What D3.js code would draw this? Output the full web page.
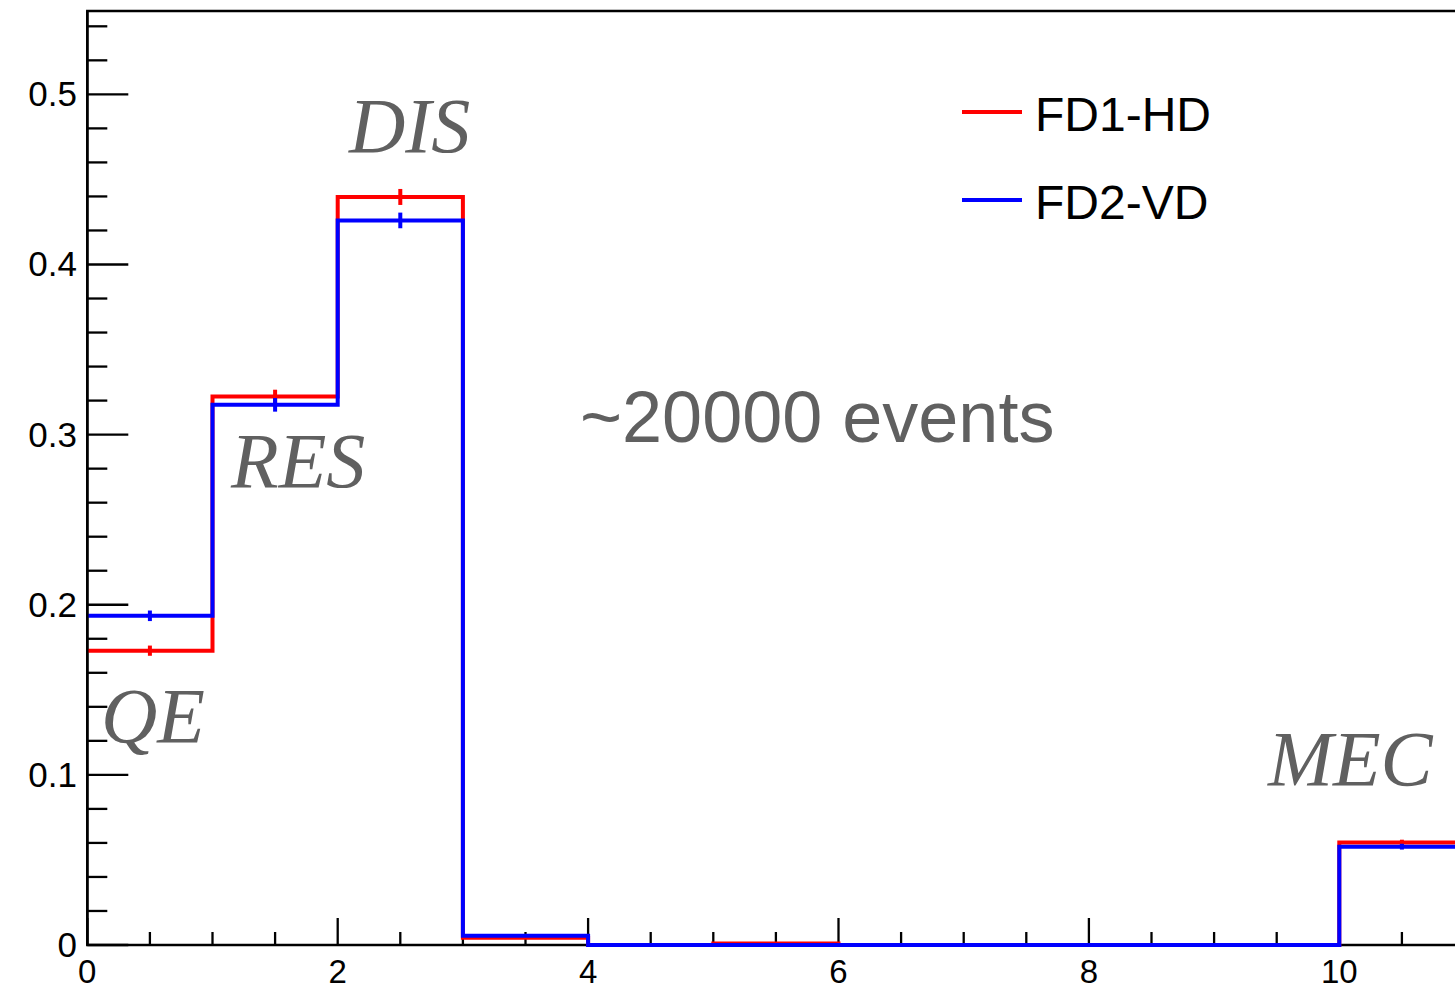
<!DOCTYPE html>
<html>
<head>
<meta charset="utf-8">
<script src="https://cdn.jsdelivr.net/npm/d3@7"></script>
<style>
  body { margin: 0; background: #fff; }
  svg { display: block; }
</style>
</head>
<body>
<script>
var width = 1455,
    height = 988;

// bin lower edges, one unit wide
var binEdges = [0, 1, 2, 3, 4, 5, 6, 7, 8, 9, 10];
var hdValues = [0.173, 0.3224, 0.4397, 0.0042, 0.0, 0.0009, 0.0, 0.0, 0.0, 0.0, 0.0602];
var hdErrors = [0.0030, 0.0040, 0.0047, 0.0005, 0.0, 0.0002, 0.0, 0.0, 0.0, 0.0, 0.0017];
var vdValues = [0.1935, 0.3175, 0.4259, 0.0054, 0.0, 0.0, 0.0, 0.0, 0.0, 0.0, 0.0578];
var vdErrors = [0.0031, 0.0040, 0.0046, 0.0005, 0.0, 0.0, 0.0, 0.0, 0.0, 0.0, 0.0017];

var xTickLabels = [0, 2, 4, 6, 8, 10];
var yTickLabels = [0, 0.1, 0.2, 0.3, 0.4, 0.5];

var legendNames = ["FD1-HD", "FD2-VD"];
var annotations = [
  { text: "DIS", x: 349, y: 152 },
  { text: "RES", x: 231, y: 487 },
  { text: "QE", x: 101, y: 742 },
  { text: "MEC", x: 1268, y: 785 }
];

var plotLeft = 87.3, plotBottom = 945, plotTop = 11;
var yMax = 0.549;

var xScale = d3.scaleLinear()
  .domain([0, 12])
  .range([plotLeft, plotLeft + 12 * 125.2]);

var yScale = d3.scaleLinear()
  .domain([0, yMax])
  .range([plotBottom, plotTop]);

var svg = d3.select("body")
  .append("svg")
  .attr("width", width)
  .attr("height", height);

//frame
svg.append("rect")
  .attr("x", xScale(0))
  .attr("y", yScale(yMax))
  .attr("width", xScale(12) - xScale(0))
  .attr("height", yScale(0) - yScale(yMax))
  .attr("fill", "none")
  .attr("stroke", "#000")
  .attr("stroke-width", 2.5);

//ticks inside, ROOT style
var xMinor = d3.range(0, 12.01, 0.5);
svg.selectAll(".xtick")
  .data(xMinor)
  .enter()
  .append("line")
  .attr("class", "xtick")
  .attr("x1", function(d) { return xScale(d); })
  .attr("x2", function(d) { return xScale(d); })
  .attr("y1", plotBottom)
  .attr("y2", function(d) { return plotBottom - (d % 2 === 0 ? 27 : 13); })
  .attr("stroke", "#000")
  .attr("stroke-width", 2.3);

var yMinor = d3.range(0, 28).map(function(i) { return i * 0.02; });
svg.selectAll(".ytick")
  .data(yMinor)
  .enter()
  .append("line")
  .attr("class", "ytick")
  .attr("x1", plotLeft)
  .attr("x2", function(d, i) { return plotLeft + (i % 5 === 0 ? 41 : 20); })
  .attr("y1", function(d) { return yScale(d); })
  .attr("y2", function(d) { return yScale(d); })
  .attr("stroke", "#000")
  .attr("stroke-width", 2.3);

svg.selectAll(".xlabel")
  .data(xTickLabels)
  .enter()
  .append("text")
  .attr("class", "xlabel")
  .attr("x", function(d) { return xScale(d); })
  .attr("y", 983)
  .attr("text-anchor", "middle")
  .style("font-family", "'Liberation Sans', Arial, sans-serif")
  .style("font-size", "33px")
  .text(function(d) { return d; });

svg.selectAll(".ylabel")
  .data(yTickLabels)
  .enter()
  .append("text")
  .attr("class", "ylabel")
  .attr("x", 77)
  .attr("y", function(d) { return yScale(d) + 12; })
  .attr("text-anchor", "end")
  .style("font-family", "'Liberation Sans', Arial, sans-serif")
  .style("font-size", "35px")
  .text(function(d) { return d; });

//histograms
function stepPath(values) {
  var pts = [];
  binEdges.forEach(function(e, i) {
    pts.push([xScale(e), yScale(values[i])]);
    pts.push([xScale(e + 1), yScale(values[i])]);
  });
  return d3.line()(pts);
}

function drawHist(values, errors, color) {
  var g = svg.append("g");
  g.append("path")
    .attr("d", stepPath(values))
    .attr("fill", "none")
    .attr("stroke", color)
    .attr("stroke-width", 4);
  g.selectAll("line")
    .data(binEdges)
    .enter()
    .append("line")
    .attr("x1", function(d) { return xScale(d + 0.5); })
    .attr("x2", function(d) { return xScale(d + 0.5); })
    .attr("y1", function(d, i) { return yScale(values[i] - errors[i]); })
    .attr("y2", function(d, i) { return yScale(values[i] + errors[i]); })
    .attr("stroke", color)
    .attr("stroke-width", 4);
}

drawHist(hdValues, hdErrors, "#ff0000");
drawHist(vdValues, vdErrors, "#0000ff");

//left axis line stays on top
svg.append("line")
  .attr("x1", plotLeft).attr("x2", plotLeft)
  .attr("y1", yScale(yMax)).attr("y2", yScale(0))
  .attr("stroke", "#000")
  .attr("stroke-width", 2.5);

//legend
var legendColors = ["#ff0000", "#0000ff"];
var legend = svg.selectAll(".legend")
  .data(legendNames)
  .enter()
  .append("g")
  .attr("class", "legend")
  .attr("transform", function(d, i) { return "translate(962," + (112 + i * 88) + ")"; });

legend.append("line")
  .attr("x1", 0).attr("x2", 60)
  .attr("y1", 0).attr("y2", 0)
  .attr("stroke", function(d, i) { return legendColors[i]; })
  .attr("stroke-width", 4);

legend.append("text")
  .attr("x", 73)
  .attr("y", 19)
  .style("font-family", "'Liberation Sans', Arial, sans-serif")
  .style("font-size", "48px")
  .text(function(d) { return d; });

//labels
svg.selectAll(".ann")
  .data(annotations)
  .enter()
  .append("text")
  .attr("class", "ann")
  .attr("x", function(d) { return d.x; })
  .attr("y", function(d) { return d.y; })
  .attr("fill", "#606060")
  .style("font-family", "'Liberation Serif', 'Times New Roman', serif")
  .style("font-style", "italic")
  .style("font-size", "78px")
  .text(function(d) { return d.text; });

svg.append("text")
  .attr("x", 580)
  .attr("y", 442)
  .attr("fill", "#606060")
  .style("font-family", "'Liberation Sans', Arial, sans-serif")
  .style("font-size", "72px")
  .text("~20000 events");
</script>
</body>
</html>
